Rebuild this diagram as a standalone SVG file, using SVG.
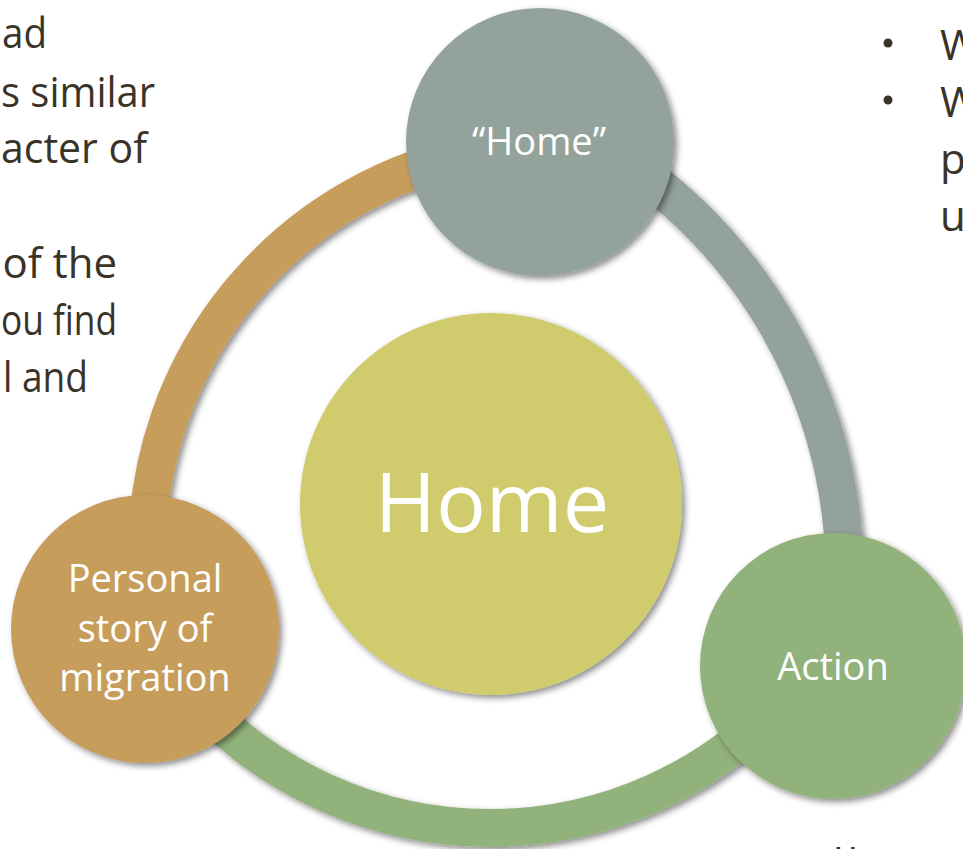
<svg xmlns="http://www.w3.org/2000/svg" width="963" height="849" viewBox="0 0 963 849">
  <defs>
    <filter id="shadow" x="-20%" y="-20%" width="140%" height="140%">
      <feDropShadow dx="3" dy="3" stdDeviation="3" flood-color="#000" flood-opacity="0.45"/>
    </filter>
  </defs>
  <style>
    .body { font-family: "Open Sans", "Noto Sans", sans-serif; font-size: 42px; fill: #3a3328; }
    .label { font-family: "Open Sans", "Noto Sans", sans-serif; font-size: 38px; fill: #ffffff; text-anchor: middle; }
    .big { font-size: 83px; }
    .arc { fill: none; stroke-width: 38; filter: url(#shadow); }
    .node { filter: url(#shadow); }
  </style>

  <rect width="963" height="849" fill="#ffffff"/>

  <!-- side text columns -->
  <g id="left-text" class="body">
    <text x="2" y="48" textLength="45" lengthAdjust="spacingAndGlyphs">ad</text>
    <text x="1" y="107" textLength="154" lengthAdjust="spacingAndGlyphs">s similar</text>
    <text x="1" y="163" textLength="146" lengthAdjust="spacingAndGlyphs">acter of</text>
    <text x="117" y="278" text-anchor="end">of the</text>
    <text x="1" y="335" textLength="116" lengthAdjust="spacingAndGlyphs">ou find</text>
    <text x="3" y="392" textLength="85" lengthAdjust="spacingAndGlyphs">l and</text>
  </g>
  <g id="right-text" class="body">
    <circle cx="888" cy="43" r="4.5" fill="#3a3328"/>
    <circle cx="888" cy="100" r="4.5" fill="#3a3328"/>
    <text x="940" y="60">W</text>
    <text x="940" y="117">W</text>
    <text x="940" y="174">p</text>
    <text x="940" y="231">u</text>
    <text x="833" y="879" letter-spacing="4">ll</text>
  </g>

  <!-- cycle connectors -->
  <g id="connectors">
    <path class="arc" stroke="#c79d5c" d="M147,551 A406,406 0 0 1 480,152"/>
    <path class="arc" stroke="#93a29a" d="M620,158 A500,500 0 0 1 844,600"/>
    <path class="arc" stroke="#91b27a" d="M780,703.5 A400,400 0 0 1 200,703.5"/>
  </g>

  <g id="center-home">
    <circle class="node" cx="491" cy="504" r="191" fill="#d0cb6c"/>
    <text class="label big" x="492" y="532">Home</text>
  </g>

  <g id="node-home">
    <circle class="node" cx="540" cy="142" r="134" fill="#93a29a"/>
    <text class="label" x="539" y="155">“Home”</text>
  </g>

  <g id="node-personal">
    <circle class="node" cx="145" cy="629" r="134" fill="#c79d5c"/>
    <text class="label" x="145" y="592">Personal</text>
    <text class="label" x="145" y="642">story of</text>
    <text class="label" x="145" y="691">migration</text>
  </g>

  <g id="node-action">
    <circle class="node" cx="833" cy="666" r="133" fill="#91b27a"/>
    <text class="label" x="833" y="680">Action</text>
  </g>
</svg>
